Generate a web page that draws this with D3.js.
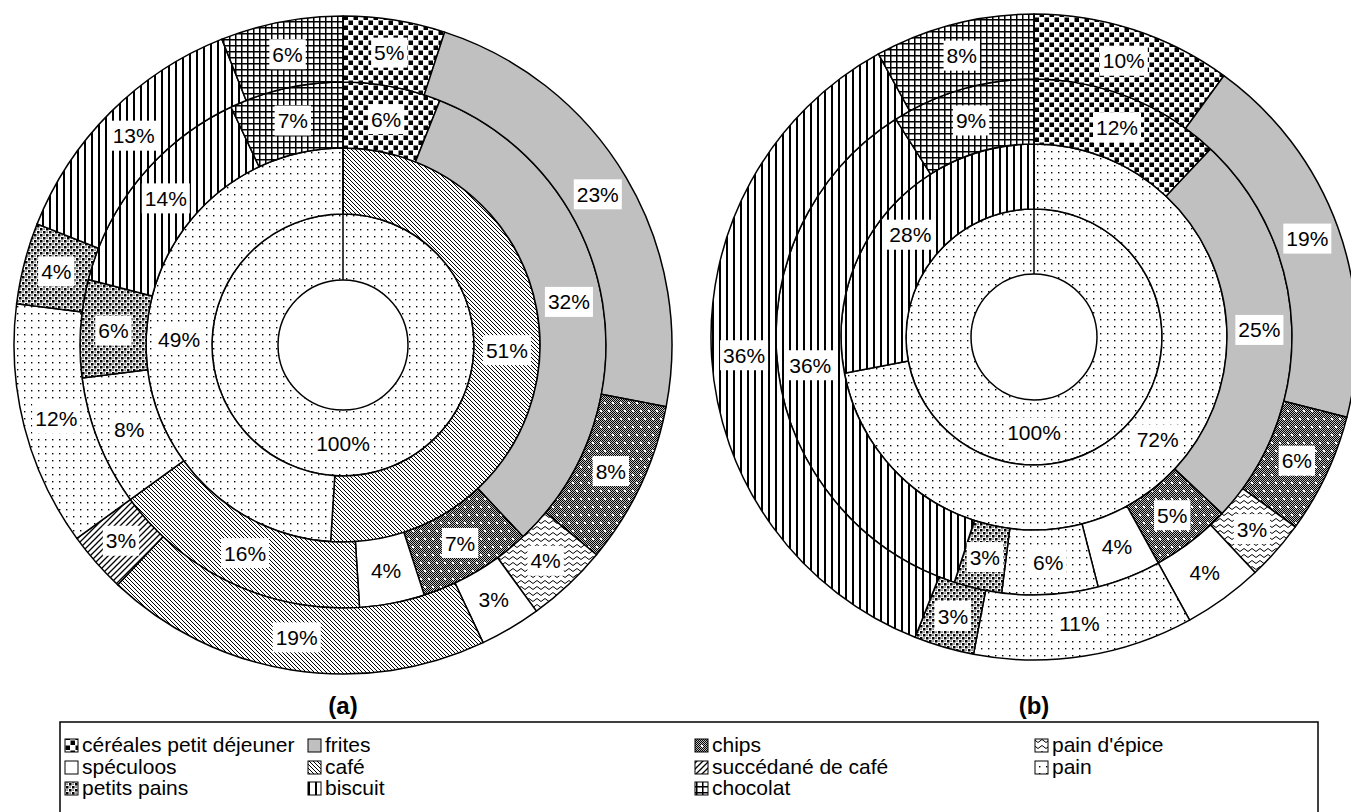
<!DOCTYPE html>
<html><head><meta charset="utf-8">
<script src="https://cdn.jsdelivr.net/npm/d3@7"></script>
<style>body{margin:0;background:#fff}svg{display:block}</style>
</head><body>
<svg id="c" width="1351" height="812"></svg>
<script>
// ---- data ----
const categories = ["céréales petit déjeuner","frites","chips","pain d'épice","spéculoos","café","succédané de café","pain","petits pains","biscuit","chocolat"];
// chart (a): rings from inner to outer, values per category (%)
const a_ring1 = [0,0,0,0,0,0,0,100,0,0,0];
const a_ring2 = [0,0,0,0,0,51,0,49,0,0,0];
const a_ring3 = [6,32,7,0,4,16,0,8,6,14,7];
const a_ring4 = [5,23,8,4,3,19,3,12,4,13,6];
// chart (b)
const b_ring1 = [0,0,0,0,0,0,0,100,0,0,0];
const b_ring2 = [0,0,0,0,0,0,0,72,0,28,0];
const b_ring3 = [12,25,5,0,4,0,0,6,3,36,9];
const b_ring4 = [10,19,6,3,4,0,0,11,3,36,8];
const chartTitles = ["(a)","(b)"];

const svg = d3.select("#c");
const defs = svg.append("defs");
const FONT = "'Liberation Sans', Arial, sans-serif";

function pat(id, w, h, draw){
  const p = defs.append("pattern").attr("id", id).attr("patternUnits","userSpaceOnUse")
    .attr("width", w).attr("height", h);
  p.append("rect").attr("width", w).attr("height", h).attr("fill","#fff");
  draw(p);
}
pat("p0", 10, 10, p => { p.append("rect").attr("x",0.5).attr("y",0.5).attr("width",4.5).attr("height",4.5);
  p.append("rect").attr("x",5.5).attr("y",5.5).attr("width",4.5).attr("height",4.5); });
pat("p2", 8, 16, p => {
  for(let x=0;x<8;x++) for(let y=0;y<16;y++) if((x+y)%2===0) p.append("rect").attr("x",x).attr("y",y).attr("width",1).attr("height",1);
  p.append("rect").attr("width",8).attr("height",16).attr("fill","#000").attr("opacity",0.25);
  p.append("rect").attr("x",1).attr("y",1).attr("width",2).attr("height",2).attr("fill","#fff");
  p.append("rect").attr("x",5).attr("y",9).attr("width",2).attr("height",2).attr("fill","#fff");
});
pat("p3", 8, 6, p => p.append("path").attr("d","M0,3 Q2,0 4,3 T8,3").attr("fill","none").attr("stroke","#000").attr("stroke-width",1));
pat("p5", 4, 4, p => p.append("path").attr("d","M0,0 L4,4 M-1,3 L1,5 M3,-1 L5,1").attr("stroke","#000").attr("stroke-width",1));
pat("p6", 6, 6, p => p.append("path").attr("d","M0,6 L6,0 M-1,1 L1,-1 M5,7 L7,5").attr("stroke","#000").attr("stroke-width",1.3));
pat("p7", 7, 7, p => p.append("rect").attr("x",3).attr("y",3).attr("width",1.4).attr("height",1.4));
pat("p8", 6, 6, p => { p.append("rect").attr("width",2.5).attr("height",2.5);
  p.append("rect").attr("x",3).attr("y",3).attr("width",2.5).attr("height",2.5);
  p.append("rect").attr("x",3.5).attr("y",0.5).attr("width",1.2).attr("height",1.2);
  p.append("rect").attr("x",0.5).attr("y",3.5).attr("width",1.2).attr("height",1.2); });
pat("p9", 7, 7, p => p.append("rect").attr("width",2).attr("height",7));
pat("p10", 6, 6, p => { p.append("rect").attr("width",6).attr("height",1.5);
  p.append("rect").attr("width",1.5).attr("height",6); });

const fills = ["url(#p0)","#c0c0c0","url(#p2)","url(#p3)","#fff","url(#p5)","url(#p6)","url(#p7)","url(#p8)","url(#p9)","url(#p10)"];

const charts = [
  {cx:343, cy:345, r0:65, w:66, rings:[a_ring1,a_ring2,a_ring3,a_ring4], title:chartTitles[0]},
  {cx:1034, cy:337, r0:63, w:65, rings:[b_ring1,b_ring2,b_ring3,b_ring4], title:chartTitles[1]}
];

const pie = d3.pie().sort(null).value(d => d.v).startAngle(0).endAngle(2*Math.PI);

charts.forEach(ch => {
  const g = svg.append("g").attr("transform", `translate(${ch.cx},${ch.cy})`);
  const labels = [];
  ch.rings.forEach((ring, i) => {
    const ri = ch.r0 + i*ch.w, ro = ri + ch.w;
    const arc = d3.arc().innerRadius(ri).outerRadius(ro);
    const arcs = pie(ring.map((v,k)=>({v,k}))).filter(d => d.data.v > 0);
    g.selectAll(null).data(arcs).enter().append("path")
      .attr("d", arc).attr("fill", d => fills[d.data.k])
      .attr("stroke","#000").attr("stroke-width",1.5).attr("stroke-linejoin","round");
    g.append("line").attr("x1",0).attr("y1",-ri).attr("x2",0).attr("y2",-ro).attr("stroke","#000").attr("stroke-width",1.5);
    arcs.forEach(d => labels.push({c: arc.centroid(d), t: d.data.v + "%"}));
  });
  labels.forEach(l => {
    const t = g.append("text").attr("x", l.c[0]).attr("y", l.c[1]).attr("text-anchor","middle")
      .attr("dy","0.36em").attr("font-family",FONT).attr("font-size",21).text(l.t);
    const bb = t.node().getBBox();
    g.insert("rect", () => t.node()).attr("x", bb.x-3).attr("y", l.c[1]-15).attr("width", bb.width+6).attr("height", 30).attr("fill","#fff");
  });
  svg.append("text").attr("x", ch.cx).attr("y", 714).attr("text-anchor","middle")
    .attr("font-family",FONT).attr("font-weight","bold").attr("font-size",24).text(ch.title);
});

// legend
svg.append("rect").attr("x",60).attr("y",722).attr("width",1258).attr("height",100)
  .attr("fill","none").attr("stroke","#000").attr("stroke-width",1.5);
const colX = [65, 308, 695, 1035], rowY = [745, 767, 788];
categories.forEach((c, i) => {
  const x = colX[i%4], y = rowY[Math.floor(i/4)];
  svg.append("rect").attr("x",x).attr("y",y-6).attr("width",13).attr("height",13)
    .attr("fill",fills[i]).attr("stroke","#000").attr("stroke-width",1);
  svg.append("text").attr("x",x+17).attr("y",y+7).attr("font-family",FONT).attr("font-size",21).text(c);
});
</script>
</body></html>
